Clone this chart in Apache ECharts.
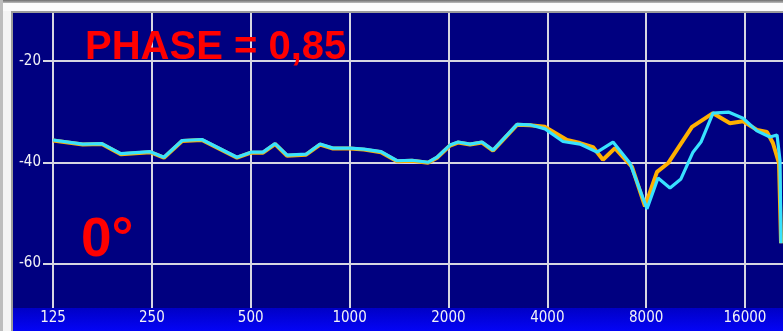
<!DOCTYPE html>
<html>
<head>
<meta charset="utf-8">
<title>PHASE = 0,85</title>
<script src="https://cdn.jsdelivr.net/npm/echarts@6/dist/echarts.min.js"></script>
<style>
  html, body { margin: 0; padding: 0; background: #f4f4f4; }
  #chart { width: 783px; height: 331px; }
</style>
</head>
<body>
<div id="chart"></div>
<script>
// Frequency axis ticks (Hz) and level gridlines (dB)
const freqTicks = [125, 250, 500, 1000, 2000, 4000, 8000, 16000];
const levelTicks = [-60, -40, -20];

// Orange trace: frequency (Hz) and level (dB)
const orangeFreq = [125, 154, 176, 201, 247, 272, 309, 355, 454, 501, 545, 593, 645, 737, 813, 890,
  1003, 1106, 1247, 1395, 1549, 1733, 1846, 2022, 2139, 2327, 2531, 2734, 3235, 3543,
  3937, 4593, 5031, 5510, 5910, 6430, 7245, 7935, 8633, 9325, 11035, 12785, 14400, 15780,
  17400, 18660, 19460, 20310, 20600];
const orangeLevel = [-35.7, -36.5, -36.4, -38.4, -38.0, -39.1, -35.8, -35.6, -39.1, -38.1, -38.1, -36.4, -38.7, -38.5, -36.5, -37.3,
  -37.3, -37.5, -38.0, -39.8, -39.7, -40.1, -39.1, -36.7, -36.1, -36.5, -36.1, -37.7, -32.6, -32.7,
  -33.0, -35.6, -36.2, -37.0, -39.5, -37.2, -40.9, -48.7, -41.9, -40.2, -33.0, -30.3, -32.3, -31.9,
  -33.6, -34.0, -36.2, -40.2, -56.0];

// Cyan trace: frequency (Hz) and level (dB)
const cyanFreq = [125, 154, 176, 201, 247, 272, 309, 355, 454, 501, 545, 593, 645, 737, 813, 890,
  1003, 1106, 1247, 1395, 1549, 1733, 1846, 2022, 2139, 2327, 2531, 2734, 3235, 3543,
  3937, 4466, 5031, 5669, 6342, 7145, 8050, 8694, 9455, 10210, 11110, 11750, 12785, 14300,
  15780, 17400, 19060, 20030, 20450, 20600];
const cyanLevel = [-35.6, -36.4, -36.3, -38.3, -37.9, -39.0, -35.7, -35.5, -39.0, -38.0, -38.0, -36.3, -38.6, -38.4, -36.4, -37.2,
  -37.2, -37.4, -37.9, -39.7, -39.6, -40.0, -39.0, -36.6, -36.0, -36.4, -36.0, -37.6, -32.5, -32.6,
  -33.4, -35.9, -36.4, -38.0, -36.0, -40.2, -49.2, -43.1, -45.1, -43.3, -38.0, -36.0, -30.3, -30.1,
  -31.3, -33.8, -35.0, -34.6, -39.6, -56.0];

const pairs = (xs, ys) => xs.map((x, i) => [x, ys[i]]);

const chart = echarts.init(document.getElementById('chart'), null, { renderer: 'canvas' });

const gridColor = '#d6d6e2';
const labelFont = '"DejaVu Sans Condensed", "DejaVu Sans", sans-serif';

chart.setOption({
  backgroundColor: '#f4f4f4',
  animation: false,
  grid: { left: 43, right: 0, top: 13, bottom: 23 },
  graphic: [
    // window frame
    { type: 'rect', z: -20, silent: true, shape: { x: 0, y: 0, width: 783, height: 3 },
      style: { fill: new echarts.graphic.LinearGradient(0, 0, 0, 1, [
        { offset: 0, color: '#6c6c6c' }, { offset: 1, color: '#bcbcbc' }]) } },
    { type: 'rect', z: -20, silent: true, shape: { x: 0, y: 0, width: 3, height: 331 },
      style: { fill: '#bdbdbd' } },
    { type: 'rect', z: -20, silent: true, shape: { x: 3, y: 3, width: 780, height: 8 },
      style: { fill: '#fbfbfb' } },
    { type: 'rect', z: -20, silent: true, shape: { x: 11, y: 11, width: 772, height: 2 },
      style: { fill: '#9c9c9c' } },
    { type: 'rect', z: -20, silent: true, shape: { x: 11, y: 11, width: 2, height: 320 },
      style: { fill: '#9c9c9c' } },
    // plot background
    { type: 'rect', z: -10, silent: true, shape: { x: 13, y: 13, width: 770, height: 295 },
      style: { fill: '#000080' } },
    // frequency label strip
    { type: 'rect', z: -10, silent: true, shape: { x: 13, y: 308, width: 770, height: 23 },
      style: { fill: new echarts.graphic.LinearGradient(0, 0, 0, 1, [
        { offset: 0, color: '#0000c6' }, { offset: 1, color: '#0404f6' }]) } },
    // annotations
    { type: 'text', z: 20, silent: true, left: 85, top: 28,
      style: { text: 'PHASE = 0,85', fill: '#ff0000',
        font: 'bold 40px "Liberation Sans", Arial, sans-serif' } },
    { type: 'text', z: 20, silent: true, left: 81, top: 213,
      style: { text: '0°', fill: '#ff0000',
        font: 'bold 55px "Liberation Sans", Arial, sans-serif' } }
  ],
  xAxis: {
    type: 'log',
    logBase: 2,
    min: 116.5,
    max: 20886,
    axisLine: { show: false },
    axisTick: { show: false, customValues: freqTicks },
    axisLabel: {
      customValues: freqTicks,
      color: '#f2f2f6',
      fontFamily: labelFont,
      fontSize: 15,
      margin: 3,
      formatter: v => String(Math.round(v))
    },
    splitLine: { show: true, lineStyle: { color: gridColor, width: 2 } }
  },
  yAxis: {
    type: 'value',
    min: -68.8,
    max: -10.5,
    axisLine: { show: false },
    axisTick: { show: false, customValues: levelTicks },
    axisLabel: {
      customValues: levelTicks,
      color: '#f2f2f6',
      fontFamily: labelFont,
      fontSize: 15,
      margin: 2,
      padding: [4, 0, 0, 0],
      formatter: v => String(v)
    },
    splitLine: { show: true, lineStyle: { color: gridColor, width: 2 } }
  },
  series: [
    {
      name: 'orange',
      type: 'line',
      data: pairs(orangeFreq, orangeLevel),
      showSymbol: false,
      lineStyle: { color: '#ffb000', width: 4 },
      z: 3
    },
    {
      name: 'cyan',
      type: 'line',
      data: pairs(cyanFreq, cyanLevel),
      showSymbol: false,
      lineStyle: { color: '#38e2ff', width: 3.2 },
      z: 4
    }
  ]
});
</script>
</body>
</html>
